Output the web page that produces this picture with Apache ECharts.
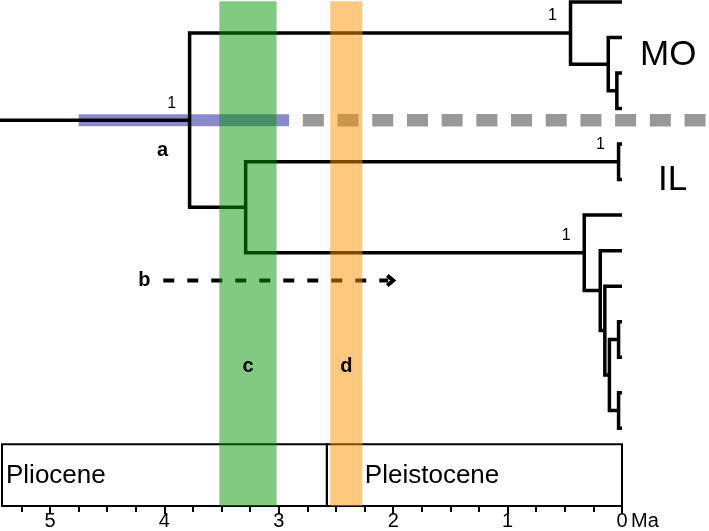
<!DOCTYPE html>
<html><head><meta charset="utf-8">
<script src="https://cdn.jsdelivr.net/npm/echarts@6/dist/echarts.min.js"></script>
<style>html,body{margin:0;padding:0;background:#fff}#c{width:709px;height:531px}</style>
</head><body><div id="c"></div>
<script>
// ---------------- data ----------------
const tipNames  = ['mo1','mo2','mo3','mo4','il1','il2','t1','t2','t3','t4','t5','t6','t7'];
const tipParent = ['MO','MOb','MOc','MOc','IL','IL','L','L2','L3','L5','L5','L6','L6'];
const tipAges   = [0,0,0,0,0,0,0,0,0,0,0,0,0];
const nodeIds    = ['root','A','MO','MOb','MOc','B','IL','L','L2','L3','L4','L5','L6'];
const nodeParent = [null,'root','A','MO','MOb','A','B','B','L','L2','L3','L4','L4'];
const nodeAges   = [5.44,3.78,0.45,0.12,0.045,3.29,0.03,0.33,0.19,0.15,0.11,0.03,0.03];
const supportNodes  = ['A','MO','IL','L'];
const supportValues = ['1','1','1','1'];
const hpdA        = [4.75, 2.91];
const splitDashed = [2.79, -0.73];
const bandC = [3.52, 3.02];
const bandD = [2.55, 2.27];
const bandLabels = ['c','d'];
const epochNames = ['Pliocene','Pleistocene'];
const epochStart = [5.42, 2.58];
const epochEnd   = [2.58, 0];
const arrowB = [4.01, 2.0];
const majorTicks = [0,1,2,3,4,5];
const minorTicks = [0.25,0.5,0.75,1.25,1.5,1.75,2.25,2.5,2.75,3.25,3.5,3.75,4.25,4.5,4.75,5.25];
const cladeLabels = ['MO','IL'];
const unitLabel = 'Ma';

// ---------------- tree layout (y = tip order) ----------------
const nodes = {};
nodeIds.forEach((id, i) => { nodes[id] = {id, age: nodeAges[i], parent: nodeParent[i], kids: []}; });
tipNames.forEach((id, i) => { nodes[id] = {id, age: tipAges[i], parent: tipParent[i], kids: [], y: i, tip: true}; });
nodeIds.forEach((id, i) => { if (nodeParent[i]) nodes[nodeParent[i]].kids.push(nodes[id]); });
tipNames.forEach((id, i) => nodes[tipParent[i]].kids.push(nodes[id]));
function layY(n) {
  if (n.tip) return n.y;
  const ys = n.kids.map(layY);
  n.y = (Math.min(...ys) + Math.max(...ys)) / 2;
  n.kids.sort((a, b) => a.y - b.y);
  return n.y;
}
layY(nodes.root);

const FONT = '"Liberation Sans", Arial, sans-serif';
const Y_MAX = 14.19, BOX_TOP = 12.45;
const LW = 3.5;

function renderItem(params, api) {
  const P = (t, y) => api.coord([t, y]);
  const ch = [];
  const A = nodes.A;
  // HPD bar for node A
  const h0 = P(hpdA[0], A.y), h1 = P(hpdA[1], A.y);
  ch.push({type: 'rect', shape: {x: h0[0], y: h0[1] - 6, width: h1[0] - h0[0], height: 12},
           style: {fill: '#8a8acb'}});
  // grey dashed split line
  const g0 = P(splitDashed[0], A.y), g1 = P(splitDashed[1], A.y);
  ch.push({type: 'line', shape: {x1: g0[0], y1: g0[1], x2: g1[0], y2: g1[1]},
           style: {stroke: '#989898', lineWidth: 12.5, lineDash: [21, 13.7], lineCap: 'butt'}});
  // tree
  const r = nodes.root;
  const s0 = P(r.age, A.y), s1 = P(A.age, A.y);
  ch.push({type: 'line', shape: {x1: s0[0], y1: s0[1], x2: s1[0], y2: s1[1]},
           style: {stroke: '#000', lineWidth: LW}});
  nodeIds.forEach(id => {
    const n = nodes[id];
    if (id === 'root') return;
    const f = n.kids[0], l = n.kids[n.kids.length - 1];
    ch.push({type: 'polyline', shape: {points: [P(f.age, f.y), P(n.age, f.y), P(n.age, l.y), P(l.age, l.y)]},
             style: {stroke: '#000', lineWidth: LW, fill: null, lineJoin: 'miter', lineCap: 'butt'}});
    for (let k = 1; k < n.kids.length - 1; k++) {
      const m = n.kids[k], a = P(n.age, m.y), b = P(m.age, m.y);
      ch.push({type: 'line', shape: {x1: a[0], y1: a[1], x2: b[0], y2: b[1]}, style: {stroke: '#000', lineWidth: LW}});
    }
  });
  // arrow b
  const yB = 7.84;
  const a0 = P(arrowB[0], yB), a1 = P(arrowB[1], yB);
  ch.push({type: 'line', shape: {x1: a0[0], y1: a0[1], x2: a1[0] - 5, y2: a1[1]},
           style: {stroke: '#000', lineWidth: 4, lineDash: [11, 13], lineCap: 'butt'}});
  ch.push({type: 'polyline', shape: {points: [[a1[0] - 6, a1[1] - 5], [a1[0], a1[1]], [a1[0] - 6, a1[1] + 5]]},
           style: {stroke: '#000', lineWidth: 4, fill: null}});
  ch.push({type: 'text', style: {text: 'b', x: a0[0] - 19, y: a0[1], align: 'center', verticalAlign: 'middle',
           font: 'bold 20px ' + FONT, fill: '#000'}});
  // epoch box
  const labelPad = [4, 38];
  epochNames.forEach((nm, i) => {
    const p0 = P(epochStart[i], BOX_TOP), p1 = P(epochEnd[i], Y_MAX);
    ch.push({type: 'rect', shape: {x: p0[0], y: p0[1], width: p1[0] - p0[0], height: p1[1] - p0[1]},
             style: {stroke: '#000', lineWidth: 2, fill: null}});
    ch.push({type: 'text', style: {text: nm, x: p0[0] + labelPad[i], y: (p0[1] + p1[1]) / 2 + 1, align: 'left', verticalAlign: 'middle',
             font: '26px ' + FONT, fill: '#000'}});
  });
  // bands (translucent, drawn on top)
  [bandC, bandD].forEach((b, i) => {
    const p0 = P(b[0], -0.02), p1 = P(b[1], Y_MAX);
    ch.push({type: 'rect', shape: {x: p0[0], y: p0[1], width: p1[0] - p0[0], height: p1[1] - p0[1]},
             style: {fill: i === 0 ? 'rgba(6,147,6,0.5)' : 'rgba(255,145,0,0.5)'}});
    const c = P((b[0] + b[1]) / 2, 10.26);
    ch.push({type: 'text', style: {text: bandLabels[i], x: c[0], y: c[1], align: 'center', verticalAlign: 'middle',
             font: 'bold 20px ' + FONT, fill: '#000'}});
  });
  // support values
  supportNodes.forEach((id, i) => {
    const p = P(nodes[id].age, nodes[id].y);
    ch.push({type: 'text', style: {text: supportValues[i], x: p[0] - 18, y: p[1] - 17, align: 'center', verticalAlign: 'middle',
             font: '16px ' + FONT, fill: '#000'}});
  });
  // label a
  const pa = P(A.age, A.y);
  ch.push({type: 'text', style: {text: 'a', x: pa[0] - 27, y: pa[1] + 30, align: 'center', verticalAlign: 'middle',
           font: 'bold 20px ' + FONT, fill: '#000'}});
  // clade labels
  const pm = P(0, (nodes.mo1.y + nodes.mo4.y) / 2);
  ch.push({type: 'text', style: {text: cladeLabels[0], x: pm[0] + 18, y: pm[1], align: 'left', verticalAlign: 'middle',
           font: '35px ' + FONT, fill: '#000'}});
  const pi = P(0, nodes.IL.y);
  ch.push({type: 'text', style: {text: cladeLabels[1], x: pi[0] + 36, y: pi[1] + 19, align: 'left', verticalAlign: 'middle',
           font: '35px ' + FONT, fill: '#000'}});
  // unit
  const pu = P(0, Y_MAX);
  ch.push({type: 'text', style: {text: unitLabel, x: pu[0] + 9, y: pu[1] + 5, align: 'left', verticalAlign: 'top',
           font: '20px ' + FONT, fill: '#000'}});
  return {type: 'group', children: ch};
}

const chart = echarts.init(document.getElementById('c'), null, {renderer: 'canvas'});
const gridBox = {left: 2, right: 87, top: 2, bottom: 24};
chart.setOption({
  animation: false,
  backgroundColor: '#fff',
  grid: [Object.assign({}, gridBox), Object.assign({}, gridBox)],
  xAxis: [
    {gridIndex: 0, type: 'value', inverse: true, min: 0, max: 5.42, position: 'bottom',
     axisLine: {show: false, onZero: false}, splitLine: {show: false},
     axisTick: {show: true, customValues: majorTicks, length: 8, lineStyle: {color: '#000', width: 2}},
     axisLabel: {show: true, customValues: majorTicks, margin: 5, fontSize: 20, fontFamily: FONT, color: '#000'}},
    {gridIndex: 1, type: 'value', inverse: true, min: 0, max: 5.42, position: 'bottom',
     axisLine: {show: false, onZero: false}, splitLine: {show: false},
     axisTick: {show: true, customValues: minorTicks, length: 5, lineStyle: {color: '#000', width: 2}},
     axisLabel: {show: false}}
  ],
  yAxis: [
    {gridIndex: 0, type: 'value', inverse: true, min: 0, max: Y_MAX, show: false},
    {gridIndex: 1, type: 'value', inverse: true, min: 0, max: Y_MAX, show: false}
  ],
  series: [{type: 'custom', xAxisIndex: 0, yAxisIndex: 0, renderItem, data: [[0, 0]], clip: false, silent: true}]
});
</script></body></html>
